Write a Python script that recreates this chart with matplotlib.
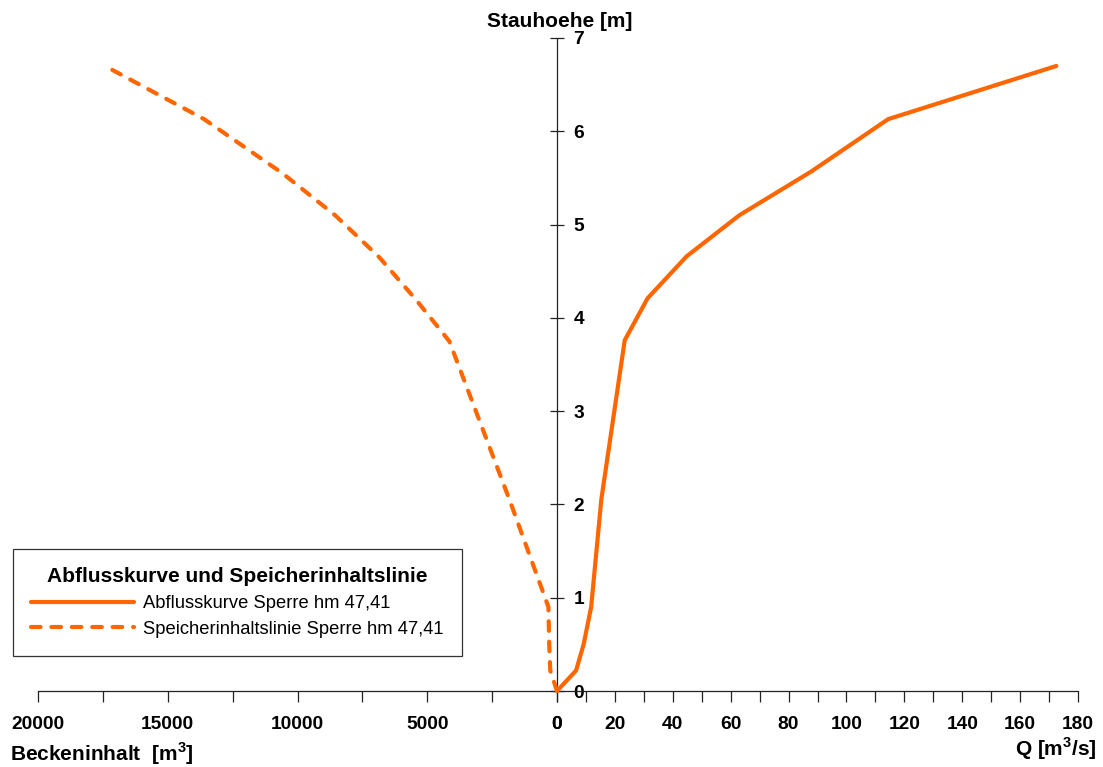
import matplotlib
matplotlib.use("Agg")
import matplotlib.pyplot as plt
from matplotlib.ticker import MultipleLocator

plt.rcParams["font.family"] = ["Liberation Sans", "DejaVu Sans"]
plt.rcParams["mathtext.fontset"] = "custom"
plt.rcParams["mathtext.rm"] = "Liberation Sans"
plt.rcParams["mathtext.bf"] = "Liberation Sans:bold"

# Abflusskurve: Q [m3/s] over Stauhoehe [m]
abfluss_q = [0, 6.6, 9.2, 11.8, 15.3, 23.4, 31.3, 44.8, 63.0, 87.9, 114.4, 172.5]
abfluss_h = [0, 0.22, 0.5, 0.9, 2.05, 3.76, 4.21, 4.66, 5.10, 5.57, 6.13, 6.70]

# Speicherinhaltslinie: Beckeninhalt [m3] over Stauhoehe [m]
speicher_v = [0, 260, 300, 330, 1830, 4150, 5450, 6850, 8550, 10580, 13600, 17150]
speicher_h = [0, 0.22, 0.5, 0.9, 2.05, 3.75, 4.2, 4.65, 5.1, 5.55, 6.13, 6.66]

left_ticks = [20000, 15000, 10000, 5000, 0]
right_ticks = [0, 20, 40, 60, 80, 100, 120, 140, 160, 180]
y_ticks = [0, 1, 2, 3, 4, 5, 6, 7]

ORANGE = "#FF6600"
W, H = 1103, 767
X_LEFT, X_MID, X_RIGHT = 38, 557, 1078
Y_BOT, Y_TOP = 691, 38

fig = plt.figure(figsize=(W / 100, H / 100), dpi=100)
bottom = (H - Y_BOT) / H
height = (Y_BOT - Y_TOP) / H
ax_l = fig.add_axes([X_LEFT / W, bottom, (X_MID - X_LEFT) / W, height])
ax_r = fig.add_axes([X_MID / W, bottom, (X_RIGHT - X_MID) / W, height], sharey=ax_l)
for ax in (ax_l, ax_r):
    ax.patch.set_visible(False)

ax_l.set_xlim(20000, 0)
ax_r.set_xlim(0, 180)
ax_l.set_ylim(0, 7)

# spines
for s in ("top", "left"):
    ax_l.spines[s].set_visible(False)
for s in ("top", "left", "right"):
    ax_r.spines[s].set_visible(False)
for sp in (ax_l.spines["right"], ax_l.spines["bottom"], ax_r.spines["bottom"]):
    sp.set_color("#222222")
    sp.set_linewidth(0.9)

tick_font = dict(fontsize=13.8, fontweight="bold")

# vertical axis in the middle
ax_l.yaxis.tick_right()
ax_l.set_yticks(y_ticks)
ax_l.set_yticklabels([str(v) for v in y_ticks], **tick_font)
ax_l.tick_params(axis="y", direction="inout", length=9.5, width=0.9, pad=7, colors="#222222", labelcolor="black")
ax_r.tick_params(axis="y", left=False, labelleft=False, right=False, labelright=False)

# bottom axes
ax_l.set_xticks(left_ticks)
ax_l.set_xticklabels([str(v) for v in left_ticks], **tick_font)
ax_l.xaxis.set_minor_locator(MultipleLocator(2500))
ax_r.set_xticks(right_ticks)
ax_r.set_xticklabels([str(v) for v in right_ticks], **tick_font)
ax_r.xaxis.set_minor_locator(MultipleLocator(10))
for ax in (ax_l, ax_r):
    ax.tick_params(axis="x", which="both", direction="out", length=8, width=0.9, pad=10, colors="#222222", labelcolor="black")

# curves
l1, = ax_r.plot(abfluss_q, abfluss_h, color=ORANGE, lw=3, solid_joinstyle="round",
                solid_capstyle="round", clip_on=False, zorder=5)
l2, = ax_l.plot(speicher_v, speicher_h, color=ORANGE, lw=3, dashes=(2.3, 2.6),
                dash_capstyle="round", clip_on=False, zorder=5)

# axis titles
fig.text(560 / W, 1 - 27 / H, "Stauhoehe [m]", ha="center", va="baseline", fontsize=15, fontweight="bold")
fig.text(10 / W, 1 - 761 / H, r"Beckeninhalt  [m$^{\mathbf{3}}$]", ha="left", va="baseline", fontsize=15, fontweight="bold")
fig.text(1097 / W, 1 - 756 / H, r"Q [m$^{\mathbf{3}}$/s]", ha="right", va="baseline", fontsize=15, fontweight="bold")

leg = fig.legend([l1, l2], ["Abflusskurve Sperre hm 47,41", "Speicherinhaltslinie Sperre hm 47,41"],
                 loc="upper left", bbox_to_anchor=(13 / W, 1 - 549 / H),
                 title="Abflusskurve und Speicherinhaltslinie",
                 title_fontproperties={"weight": "bold", "size": 15},
                 prop={"size": 13.2}, fancybox=False, frameon=True, edgecolor="black",
                 handlelength=5.6, handletextpad=0.5, labelspacing=0.47, borderpad=1.0,
                 borderaxespad=0)
leg.get_frame().set_linewidth(0.9)

fig.savefig("out.png", dpi=100)
